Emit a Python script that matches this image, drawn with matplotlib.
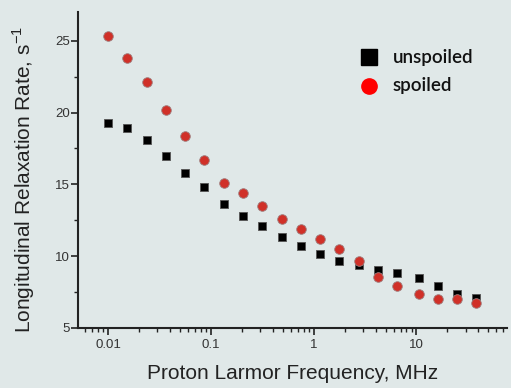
import numpy as np
import matplotlib
matplotlib.use("Agg")
import matplotlib.pyplot as plt
from matplotlib.ticker import LogLocator, NullFormatter, FixedLocator

# proton Larmor frequency, MHz
freq = [0.01, 0.0154, 0.0237, 0.0365, 0.0562, 0.0866, 0.133, 0.205, 0.316, 0.487,
        0.75, 1.15, 1.78, 2.74, 4.22, 6.49, 10.5, 16.2, 24.9, 38.3]
# relaxation rates, 1/s
unspoiled = [19.3, 18.9, 18.06, 16.98, 15.82, 14.79, 13.65, 12.83, 12.11, 11.31,
             10.73, 10.17, 9.69, 9.38, 9.03, 8.82, 8.50, 7.89, 7.36, 7.10]
spoiled = [25.3, 23.83, 22.13, 20.15, 18.36, 16.68, 15.07, 14.4, 13.51, 12.6,
           11.9, 11.2, 10.5, 9.66, 8.57, 7.89, 7.36, 7.05, 7.05, 6.75]

bg = "#e0e8e8"
plt.rcParams['font.family'] = ['Liberation Sans', 'DejaVu Sans']

fig = plt.figure(figsize=(5.11, 3.88), dpi=100, facecolor=bg)
ax = fig.add_axes([78 / 511, 60 / 388, 429 / 511, 316 / 388], facecolor=bg)

ax.scatter(freq, unspoiled, marker="s", s=36, color="black", edgecolors="#555555",
           linewidths=0.6, zorder=3)
ax.scatter(freq, spoiled, marker="o", s=48, color="#d03028", edgecolors="#a08080",
           linewidths=0.6, zorder=3)

ax.set_xscale("log")
ax.set_xlim(0.0051, 76)
ax.set_ylim(5, 27)
ax.set_yticks([5, 10, 15, 20, 25])
ax.yaxis.set_minor_locator(FixedLocator([7.5, 12.5, 17.5, 22.5]))
ax.xaxis.set_major_locator(FixedLocator([0.01, 0.1, 1, 10]))
ax.set_xticklabels(["0.01", "0.1", "1", "10"])
ax.xaxis.set_minor_locator(LogLocator(base=10, subs=np.arange(2, 10)))
ax.xaxis.set_minor_formatter(NullFormatter())

for s in ["top", "right"]:
    ax.spines[s].set_visible(False)
for s in ["left", "bottom"]:
    ax.spines[s].set_linewidth(1.5)
    ax.spines[s].set_color("#222222")

ax.tick_params(axis="both", which="major", direction="out", length=5, width=1.2,
               colors="#222222", labelsize=9.5, labelcolor="#333333")
ax.tick_params(axis="both", which="minor", direction="out", length=3, width=1.0,
               colors="#222222")
ax.tick_params(axis="x", which="major", pad=3)
ax.tick_params(axis="y", which="major", pad=1)

ax.set_xlabel("Proton Larmor Frequency, MHz", fontsize=15, color="#222222", labelpad=9)
ax.set_ylabel("Longitudinal Relaxation Rate, s$^{\\mathregular{-1}}$", fontsize=15,
              color="#222222", labelpad=13)
ax.yaxis.label.set_y(0.47)

# legend drawn by hand in figure coordinates
leg_font = dict(fontsize=13.5, family=["Lato", "DejaVu Sans"], weight="semibold",
                color="#111111", va="center", transform=fig.transFigure)
fig.text(393 / 511, 1 - 57 / 388, "unspoiled", **leg_font)
fig.text(393 / 511, 1 - 86 / 388, "spoiled", **leg_font)
fig.lines.append(plt.Line2D([369 / 511], [1 - 57 / 388], marker="s", markersize=11,
                            color="black", linestyle="none", transform=fig.transFigure))
fig.lines.append(plt.Line2D([369 / 511], [1 - 86 / 388], marker="o", markersize=11,
                            color="#ff0000", linestyle="none", transform=fig.transFigure))

fig.savefig("out.png", dpi=100, facecolor=bg)
